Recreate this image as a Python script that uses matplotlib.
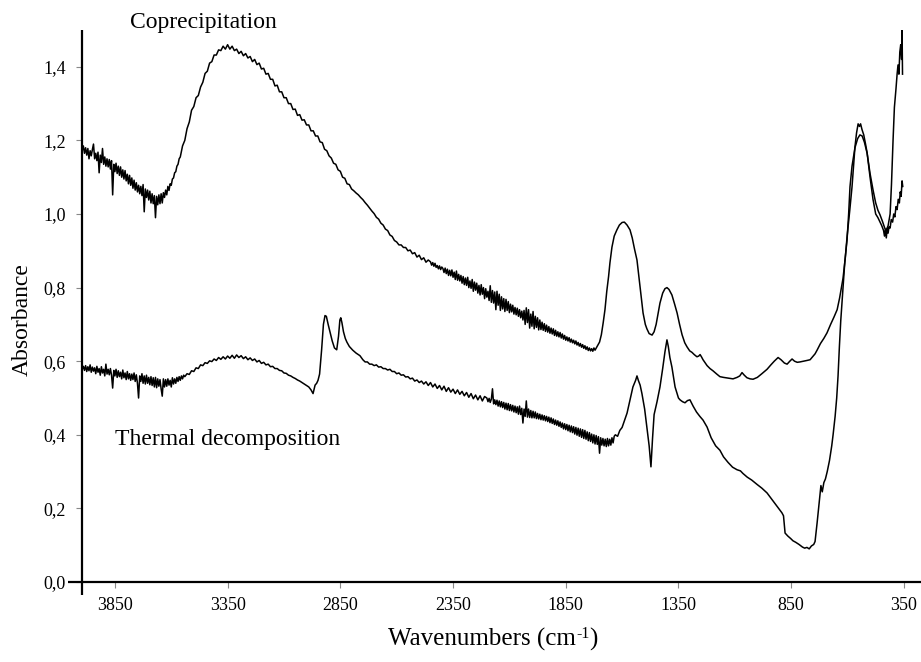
import matplotlib
matplotlib.use("Agg")
import matplotlib.pyplot as plt
from matplotlib.ticker import FixedLocator, FuncFormatter

plt.rcParams["font.family"] = ["Liberation Serif", "DejaVu Serif"]

# ---------------- spectra (wavenumber cm-1, absorbance) ----------------
copre_oh = [
    (4000, 1.190), (3995, 1.172), (3990, 1.185), (3985, 1.165), (3980, 1.180), (3975, 1.160),
    (3970, 1.178), (3965, 1.150), (3960, 1.172), (3955, 1.158), (3950, 1.175), (3945, 1.190),
    (3940, 1.150), (3935, 1.165), (3930, 1.145), (3925, 1.168), (3920, 1.112), (3915, 1.160),
    (3910, 1.140), (3905, 1.178), (3900, 1.135), (3895, 1.155), (3890, 1.130), (3885, 1.150),
    (3880, 1.128), (3875, 1.148), (3870, 1.122), (3865, 1.145), (3860, 1.052), (3855, 1.135),
    (3850, 1.115), (3845, 1.138), (3840, 1.110), (3835, 1.130), (3830, 1.105), (3825, 1.128),
    (3820, 1.100), (3815, 1.120), (3810, 1.095), (3805, 1.118), (3800, 1.090), (3795, 1.108),
    (3790, 1.082), (3785, 1.105), (3780, 1.078), (3775, 1.098), (3770, 1.070), (3765, 1.092),
    (3760, 1.065), (3755, 1.085), (3750, 1.060), (3745, 1.078), (3740, 1.055), (3735, 1.075),
    (3730, 1.050), (3725, 1.080), (3720, 1.006), (3715, 1.068), (3710, 1.045), (3705, 1.065),
    (3700, 1.038), (3695, 1.062), (3690, 1.030), (3685, 1.055), (3680, 1.028), (3675, 1.050),
    (3670, 0.990), (3665, 1.048), (3660, 1.025), (3655, 1.052), (3650, 1.028), (3645, 1.055),
    (3640, 1.030), (3635, 1.058), (3630, 1.045), (3625, 1.065), (3620, 1.052), (3615, 1.075),
    (3610, 1.064), (3605, 1.082), (3600, 1.078), (3595, 1.095), (3590, 1.098), (3585, 1.112),
    (3580, 1.115), (3575, 1.130), (3570, 1.135), (3565, 1.150), (3560, 1.155),
    (3550, 1.185), (3540, 1.200), (3530, 1.232), (3520, 1.250), (3510, 1.282), (3500, 1.292),
    (3490, 1.316), (3480, 1.322), (3470, 1.345), (3460, 1.358), (3450, 1.382), (3440, 1.388),
    (3430, 1.410), (3420, 1.414), (3410, 1.432), (3400, 1.432), (3390, 1.446), (3380, 1.444),
    (3370, 1.456), (3360, 1.448), (3350, 1.460), (3340, 1.448), (3330, 1.456), (3320, 1.444),
    (3310, 1.448), (3300, 1.436), (3290, 1.442), (3280, 1.430), (3270, 1.436), (3260, 1.424),
    (3250, 1.428), (3240, 1.414), (3230, 1.420), (3220, 1.406), (3210, 1.410), (3200, 1.394),
    (3190, 1.396), (3180, 1.380), (3170, 1.382), (3160, 1.366), (3150, 1.366), (3140, 1.348),
    (3130, 1.350), (3120, 1.332), (3110, 1.332), (3100, 1.316), (3090, 1.316), (3080, 1.300),
    (3070, 1.300), (3060, 1.284), (3050, 1.285), (3040, 1.268), (3030, 1.270), (3020, 1.255),
    (3010, 1.256), (3000, 1.242), (2990, 1.242), (2980, 1.226), (2970, 1.226), (2960, 1.212),
    (2950, 1.212), (2940, 1.196), (2930, 1.194), (2920, 1.176), (2910, 1.172), (2900, 1.158),
    (2890, 1.152), (2880, 1.138), (2870, 1.135), (2860, 1.120), (2850, 1.116), (2840, 1.100),
    (2830, 1.097), (2820, 1.082), (2810, 1.080),
]

copre_slope = [
    (2800, 1.068), (2790, 1.063), (2780, 1.057), (2770, 1.052), (2760, 1.045), (2750, 1.039),
    (2740, 1.031), (2730, 1.024), (2720, 1.016), (2710, 1.008), (2700, 1.001), (2690, 0.991),
    (2680, 0.986), (2670, 0.975), (2660, 0.970), (2650, 0.959), (2640, 0.955), (2630, 0.943),
    (2620, 0.939), (2610, 0.928), (2600, 0.924), (2590, 0.916), (2580, 0.916), (2570, 0.909),
    (2560, 0.909), (2550, 0.900), (2540, 0.902), (2530, 0.892), (2520, 0.895), (2510, 0.883),
    (2500, 0.888), (2490, 0.876), (2480, 0.881), (2470, 0.869), (2460, 0.875),
    (2450, 0.870), (2445, 0.861), (2440, 0.868), (2435, 0.858), (2430, 0.866), (2425, 0.855),
    (2420, 0.860), (2415, 0.851), (2410, 0.859), (2405, 0.849), (2400, 0.856), (2395, 0.852),
    (2390, 0.841), (2385, 0.853), (2380, 0.838), (2375, 0.850), (2370, 0.833), (2365, 0.847),
    (2360, 0.832), (2355, 0.848), (2350, 0.828), (2345, 0.842), (2340, 0.822), (2335, 0.845),
    (2330, 0.820), (2325, 0.836), (2320, 0.818), (2315, 0.833), (2310, 0.812), (2305, 0.830),
    (2300, 0.808), (2295, 0.826), (2290, 0.806), (2285, 0.828), (2280, 0.800), (2275, 0.818),
    (2270, 0.798), (2265, 0.822), (2260, 0.790), (2255, 0.815), (2250, 0.793), (2245, 0.812),
    (2240, 0.785), (2235, 0.806), (2230, 0.780), (2225, 0.808), (2220, 0.782), (2215, 0.800),
    (2210, 0.770), (2205, 0.797), (2200, 0.774), (2195, 0.790), (2190, 0.765), (2185, 0.805),
    (2180, 0.760), (2175, 0.792), (2170, 0.758), (2165, 0.788), (2160, 0.740), (2155, 0.790),
    (2150, 0.752), (2145, 0.782), (2140, 0.738), (2135, 0.775), (2130, 0.742), (2125, 0.770),
    (2120, 0.735), (2115, 0.768), (2110, 0.738), (2105, 0.762), (2100, 0.732), (2095, 0.755),
    (2090, 0.734), (2085, 0.752), (2080, 0.728), (2075, 0.746), (2070, 0.726), (2065, 0.744),
    (2060, 0.722), (2055, 0.740), (2050, 0.718), (2045, 0.736), (2040, 0.712), (2035, 0.738),
    (2030, 0.700), (2025, 0.745), (2020, 0.705), (2015, 0.740), (2010, 0.690), (2005, 0.728),
    (2000, 0.695), (1995, 0.735), (1990, 0.688), (1985, 0.722), (1980, 0.692), (1975, 0.718),
    (1970, 0.685), (1965, 0.712), (1960, 0.686), (1955, 0.706), (1950, 0.684), (1945, 0.702),
    (1940, 0.681), (1935, 0.698), (1930, 0.679), (1925, 0.694), (1920, 0.676), (1915, 0.690),
    (1910, 0.674), (1905, 0.688), (1900, 0.670), (1895, 0.684), (1890, 0.668), (1885, 0.680),
    (1880, 0.666), (1875, 0.678), (1870, 0.663), (1865, 0.674), (1860, 0.660), (1855, 0.670),
    (1850, 0.657), (1845, 0.666), (1840, 0.655), (1835, 0.664), (1830, 0.652), (1825, 0.660),
    (1820, 0.650), (1815, 0.657), (1810, 0.647), (1805, 0.655), (1800, 0.644), (1795, 0.651),
    (1790, 0.641), (1785, 0.648), (1780, 0.638), (1775, 0.645), (1770, 0.635), (1765, 0.642),
    (1760, 0.632), (1755, 0.639), (1750, 0.629), (1745, 0.636), (1740, 0.628), (1735, 0.634),
    (1730, 0.627), (1725, 0.636), (1720, 0.630), (1711, 0.640),
]

copre_fingerprint = [
    (1700, 0.652), (1692, 0.672), (1684, 0.704), (1676, 0.740), (1668, 0.790), (1660, 0.830),
    (1654, 0.867), (1645, 0.910), (1635, 0.940), (1623, 0.957), (1612, 0.970), (1600, 0.977),
    (1590, 0.978), (1578, 0.970), (1565, 0.957), (1555, 0.935), (1545, 0.905), (1534, 0.875),
    (1520, 0.800), (1507, 0.731), (1497, 0.700), (1490, 0.688), (1480, 0.675), (1467, 0.671),
    (1458, 0.680), (1449, 0.700), (1440, 0.730), (1432, 0.758), (1420, 0.785), (1410, 0.797),
    (1401, 0.800), (1392, 0.795), (1379, 0.780), (1367, 0.755), (1356, 0.731), (1345, 0.700),
    (1334, 0.672), (1322, 0.650), (1312, 0.639), (1300, 0.628), (1290, 0.624), (1280, 0.618),
    (1268, 0.612), (1260, 0.614), (1254, 0.618), (1248, 0.612), (1241, 0.604), (1230, 0.594),
    (1223, 0.588), (1210, 0.580), (1197, 0.574), (1180, 0.565), (1166, 0.558), (1150, 0.556),
    (1130, 0.554), (1108, 0.552), (1090, 0.556), (1078, 0.560), (1068, 0.569), (1058, 0.562),
    (1046, 0.555), (1032, 0.552), (1019, 0.551), (1000, 0.556), (980, 0.566), (957, 0.578),
    (940, 0.590), (925, 0.600), (908, 0.610), (895, 0.604), (880, 0.595), (868, 0.592),
    (856, 0.600), (846, 0.606), (835, 0.600), (823, 0.597), (811, 0.598), (795, 0.600),
    (780, 0.602), (766, 0.604), (755, 0.612), (744, 0.620), (735, 0.630), (720, 0.648),
    (705, 0.662), (691, 0.677), (675, 0.700), (660, 0.720), (646, 0.740), (635, 0.772),
    (627, 0.800), (620, 0.825), (610, 0.880), (602, 0.938), (590, 1.010), (580, 1.074),
    (572, 1.140), (567, 1.182), (560, 1.220), (553, 1.245), (547, 1.238), (542, 1.245),
    (536, 1.230), (528, 1.215), (520, 1.190), (513, 1.166), (500, 1.100), (487, 1.040),
    (475, 1.000), (465, 0.990), (456, 0.978), (448, 0.968), (440, 0.955), (436, 0.940),
    (432, 0.958), (428, 0.935), (424, 0.960), (420, 0.948), (416, 0.965), (411, 0.962),
    (406, 0.985), (400, 0.978), (395, 1.000), (390, 0.992), (385, 1.020), (380, 1.012),
    (375, 1.040), (370, 1.030), (366, 1.060), (362, 1.048), (358, 1.090), (355, 1.075),
]

thermal_oh = [
    (4000, 0.590), (3995, 0.578), (3990, 0.586), (3985, 0.575), (3980, 0.588), (3975, 0.572),
    (3970, 0.585), (3965, 0.574), (3960, 0.590), (3955, 0.570), (3950, 0.584), (3945, 0.573),
    (3940, 0.582), (3935, 0.566), (3930, 0.586), (3925, 0.570), (3920, 0.580), (3915, 0.562),
    (3910, 0.585), (3905, 0.568), (3900, 0.578), (3895, 0.560), (3890, 0.592), (3885, 0.565),
    (3880, 0.578), (3875, 0.563), (3870, 0.580), (3865, 0.562), (3860, 0.527), (3855, 0.575),
    (3850, 0.560), (3845, 0.578), (3840, 0.556), (3835, 0.574), (3830, 0.558), (3825, 0.570),
    (3820, 0.552), (3815, 0.576), (3810, 0.555), (3805, 0.568), (3800, 0.550), (3795, 0.572),
    (3790, 0.552), (3785, 0.566), (3780, 0.548), (3775, 0.565), (3770, 0.550), (3765, 0.568),
    (3760, 0.545), (3755, 0.563), (3750, 0.540), (3745, 0.500), (3740, 0.560), (3735, 0.545),
    (3730, 0.566), (3725, 0.540), (3720, 0.560), (3715, 0.538), (3710, 0.562), (3705, 0.540),
    (3700, 0.556), (3695, 0.536), (3690, 0.558), (3685, 0.534), (3680, 0.555), (3675, 0.530),
    (3670, 0.556), (3665, 0.528), (3660, 0.552), (3655, 0.532), (3650, 0.550), (3645, 0.525),
    (3640, 0.505), (3635, 0.552), (3630, 0.530), (3625, 0.550), (3620, 0.532), (3615, 0.552),
    (3610, 0.535), (3605, 0.548), (3600, 0.530), (3595, 0.555), (3590, 0.538), (3585, 0.552),
    (3580, 0.540), (3575, 0.556), (3570, 0.545), (3565, 0.558), (3560, 0.548), (3555, 0.560),
    (3550, 0.552), (3545, 0.562), (3540, 0.558),
    (3530, 0.566), (3520, 0.564), (3510, 0.574), (3500, 0.572), (3490, 0.582), (3480, 0.580),
    (3470, 0.590), (3460, 0.588), (3450, 0.596), (3440, 0.594), (3430, 0.601), (3420, 0.599),
    (3410, 0.606), (3400, 0.602), (3390, 0.610), (3380, 0.605), (3370, 0.612), (3360, 0.606),
    (3350, 0.614), (3340, 0.608), (3330, 0.616), (3320, 0.608), (3310, 0.617), (3300, 0.610),
    (3290, 0.615), (3280, 0.607), (3270, 0.612), (3260, 0.604), (3250, 0.609), (3240, 0.602),
    (3230, 0.606), (3220, 0.598), (3210, 0.602), (3200, 0.594), (3190, 0.597), (3180, 0.590),
    (3170, 0.592), (3160, 0.585), (3150, 0.586), (3140, 0.580), (3130, 0.580), (3120, 0.575),
    (3110, 0.574), (3100, 0.568), (3090, 0.567), (3080, 0.562), (3070, 0.560), (3060, 0.556),
    (3050, 0.553), (3040, 0.549), (3030, 0.546), (3020, 0.542), (3010, 0.538), (3000, 0.534),
    (2990, 0.530), (2980, 0.522), (2971, 0.512), (2962, 0.535), (2955, 0.540), (2949, 0.548),
    (2942, 0.565), (2933, 0.631), (2925, 0.700), (2918, 0.724), (2912, 0.722), (2904, 0.700),
    (2896, 0.680), (2886, 0.655), (2876, 0.636), (2866, 0.631), (2858, 0.668), (2852, 0.712),
    (2848, 0.718), (2843, 0.705), (2836, 0.680), (2828, 0.662), (2821, 0.652), (2810, 0.640),
    (2795, 0.630), (2780, 0.622), (2763, 0.615),
]

thermal_slope = [
    (2750, 0.604), (2740, 0.598), (2730, 0.598), (2720, 0.592), (2710, 0.592), (2700, 0.588),
    (2690, 0.590), (2680, 0.584), (2670, 0.585), (2660, 0.580), (2650, 0.580), (2640, 0.576),
    (2630, 0.578), (2620, 0.572), (2610, 0.572), (2600, 0.566), (2590, 0.568), (2580, 0.562),
    (2570, 0.563), (2560, 0.557), (2550, 0.558), (2540, 0.552), (2530, 0.554), (2520, 0.546),
    (2510, 0.549), (2500, 0.542), (2490, 0.546), (2480, 0.538), (2470, 0.544), (2460, 0.534),
    (2450, 0.542), (2440, 0.530), (2430, 0.538), (2420, 0.526), (2410, 0.534), (2400, 0.522),
    (2390, 0.532), (2380, 0.518), (2370, 0.528), (2360, 0.516), (2350, 0.524), (2340, 0.512),
    (2330, 0.522), (2320, 0.510), (2310, 0.518), (2300, 0.506), (2290, 0.515), (2280, 0.502),
    (2270, 0.512), (2260, 0.498), (2250, 0.508), (2240, 0.495), (2230, 0.506), (2220, 0.492),
    (2210, 0.504),
    (2200, 0.500), (2195, 0.490), (2190, 0.499), (2185, 0.488), (2180, 0.497), (2175, 0.525),
    (2170, 0.484), (2165, 0.495), (2160, 0.482), (2155, 0.494), (2150, 0.478), (2145, 0.492),
    (2140, 0.476), (2135, 0.490), (2130, 0.474), (2125, 0.488), (2120, 0.470), (2115, 0.486),
    (2110, 0.468), (2105, 0.485), (2100, 0.466), (2095, 0.482), (2090, 0.465), (2085, 0.480),
    (2080, 0.462), (2075, 0.478), (2070, 0.460), (2065, 0.476), (2060, 0.456), (2055, 0.478),
    (2050, 0.455), (2045, 0.472), (2040, 0.432), (2035, 0.470), (2030, 0.450), (2025, 0.492),
    (2020, 0.448), (2015, 0.470), (2010, 0.447), (2005, 0.466), (2000, 0.446), (1995, 0.464),
    (1990, 0.446), (1985, 0.462), (1980, 0.444), (1975, 0.458), (1970, 0.443), (1965, 0.456),
    (1960, 0.441), (1955, 0.454), (1950, 0.440), (1945, 0.452), (1940, 0.438), (1935, 0.450),
    (1930, 0.436), (1925, 0.448), (1920, 0.433), (1915, 0.446), (1910, 0.431), (1905, 0.443),
    (1900, 0.428), (1895, 0.440), (1890, 0.426), (1885, 0.438), (1880, 0.423), (1875, 0.435),
    (1870, 0.420), (1865, 0.432), (1860, 0.416), (1855, 0.430), (1850, 0.414), (1845, 0.428),
    (1840, 0.411), (1835, 0.426), (1830, 0.408), (1825, 0.424), (1820, 0.406), (1815, 0.422),
    (1810, 0.402), (1805, 0.420), (1800, 0.399), (1795, 0.418), (1790, 0.396), (1785, 0.416),
    (1780, 0.393), (1775, 0.414), (1770, 0.390), (1765, 0.412), (1760, 0.388), (1755, 0.408),
    (1750, 0.384), (1745, 0.406), (1740, 0.382), (1735, 0.402), (1730, 0.378), (1725, 0.400),
    (1720, 0.375), (1715, 0.398), (1710, 0.374), (1705, 0.395), (1700, 0.350), (1695, 0.392),
    (1690, 0.372), (1685, 0.390), (1680, 0.370), (1675, 0.388), (1670, 0.368), (1665, 0.390),
    (1660, 0.370), (1655, 0.388), (1650, 0.372), (1645, 0.392), (1640, 0.378), (1635, 0.396),
]

thermal_fingerprint = [
    (1630, 0.400), (1620, 0.396), (1610, 0.412), (1600, 0.420), (1590, 0.438), (1578, 0.459),
    (1565, 0.495), (1552, 0.530), (1540, 0.548), (1534, 0.560), (1528, 0.548), (1520, 0.535),
    (1512, 0.512), (1500, 0.470), (1490, 0.421), (1480, 0.370), (1472, 0.313), (1465, 0.390),
    (1458, 0.455), (1445, 0.490), (1432, 0.530), (1420, 0.580), (1410, 0.625), (1401, 0.658),
    (1395, 0.640), (1388, 0.610), (1379, 0.584), (1365, 0.530), (1350, 0.500), (1343, 0.495),
    (1332, 0.490), (1321, 0.487), (1310, 0.493), (1299, 0.495), (1285, 0.478), (1270, 0.462),
    (1255, 0.450), (1241, 0.440), (1223, 0.421), (1205, 0.392), (1185, 0.370), (1166, 0.358),
    (1150, 0.340), (1130, 0.325), (1110, 0.312), (1090, 0.305), (1075, 0.302), (1064, 0.295),
    (1045, 0.285), (1025, 0.277), (1001, 0.265), (980, 0.255), (957, 0.242), (940, 0.228),
    (920, 0.212), (900, 0.195), (891, 0.188), (884, 0.180), (877, 0.133), (865, 0.125),
    (852, 0.118), (842, 0.112), (830, 0.108), (815, 0.102), (800, 0.095), (790, 0.092),
    (780, 0.094), (770, 0.090), (760, 0.098), (750, 0.102), (744, 0.110), (735, 0.160),
    (725, 0.220), (718, 0.262), (712, 0.245), (705, 0.270), (698, 0.280), (690, 0.300),
    (680, 0.330), (670, 0.370), (664, 0.400), (655, 0.450), (648, 0.500), (642, 0.560),
    (636, 0.640), (630, 0.710), (620, 0.800), (612, 0.870), (602, 0.930), (595, 1.000),
    (589, 1.074), (580, 1.130), (567, 1.180), (555, 1.205), (545, 1.215), (535, 1.212),
    (525, 1.195), (513, 1.165), (500, 1.110), (487, 1.066), (475, 1.030), (465, 1.010),
    (456, 0.998), (445, 0.980), (435, 0.962), (429, 0.955), (420, 0.968), (411, 1.000),
    (405, 1.080), (398, 1.200), (392, 1.290), (385, 1.340), (380, 1.380), (376, 1.405),
    (372, 1.380), (368, 1.440), (364, 1.460), (360, 1.420), (358, 1.500), (356, 1.380),
]

x_ticks = [3850, 3350, 2850, 2350, 1850, 1350, 850, 350]
y_ticks = [0.0, 0.2, 0.4, 0.6, 0.8, 1.0, 1.2, 1.4]

series = {
    "Coprecipitation": copre_oh + copre_slope + copre_fingerprint,
    "Thermal decomposition": thermal_oh + thermal_slope + thermal_fingerprint,
}

# ---------------- figure ----------------
W, H = 921, 662
fig = plt.figure(figsize=(W / 100, H / 100), dpi=100)
ax = fig.add_axes([82 / W, 80 / H, 839 / W, 552 / H])
ax.set_xlim(3996, 274)
ax.set_ylim(0, 1.5)

for pts in series.values():
    wn = [p[0] for p in pts]
    ab = [p[1] for p in pts]
    ax.plot(wn, ab, color="black", lw=1.1, solid_joinstyle="round")

# axis lines crossing at the origin
for s in ax.spines.values():
    s.set_visible(False)
ax.plot([0, 0], [-13 / 552, 1.0], transform=ax.transAxes, color="black",
        lw=1.6, clip_on=False, solid_capstyle="butt")
ax.plot([-14 / 839, 1.0], [0, 0], transform=ax.transAxes, color="black",
        lw=1.6, clip_on=False, solid_capstyle="butt")

ax.xaxis.set_major_locator(FixedLocator(x_ticks))
ax.yaxis.set_major_locator(FixedLocator(y_ticks))
ax.yaxis.set_major_formatter(FuncFormatter(lambda v, p: f"{v:.1f}".replace(".", ",")))
ax.xaxis.set_major_formatter(FuncFormatter(lambda v, p: f"{int(v)}"))
ax.tick_params(axis="both", direction="out", length=4.5, width=0.8, color="#888888",
               labelsize=13, labelcolor="black")
ax.tick_params(axis="y", pad=7)
ax.tick_params(axis="x", pad=6)

# curve names
ax.text(3783, 1.505, "Coprecipitation", fontsize=17, ha="left", va="baseline", clip_on=False)
ax.text(3850, 0.372, "Thermal decomposition", fontsize=17, ha="left", va="baseline")

# axis titles
fig.text(22 / W, 1 - 320 / H, "Absorbance", rotation=90, fontsize=17,
         ha="center", va="center")

fig.canvas.draw()
renderer = fig.canvas.get_renderer()
base_y = 1 - 646 / H
main = fig.text(0, base_y, "Wavenumbers (cm", fontsize=18, ha="left", va="baseline")
sup = fig.text(0, base_y + 8 / H, "-1", fontsize=11.5, ha="left", va="baseline")
close = fig.text(0, base_y, ")", fontsize=18, ha="left", va="baseline")
w_main = main.get_window_extent(renderer).width
w_sup = sup.get_window_extent(renderer).width
w_close = close.get_window_extent(renderer).width
total = w_main + w_sup + w_close
x0 = 493 - total / 2
main.set_x(x0 / W)
sup.set_x((x0 + w_main) / W)
close.set_x((x0 + w_main + w_sup) / W)

fig.savefig("out.png", dpi=100)
